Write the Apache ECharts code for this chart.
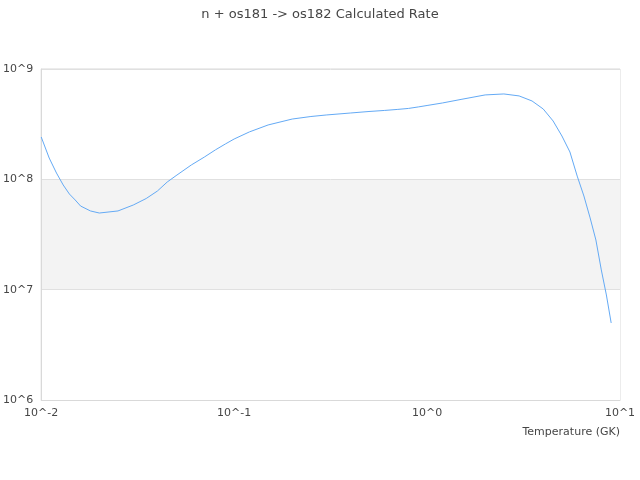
<!DOCTYPE html>
<html>
<head>
<meta charset="utf-8">
<script src="https://cdn.jsdelivr.net/npm/echarts@6/dist/echarts.min.js"></script>
<style>html,body{margin:0;padding:0;background:#fff;}#c{width:640px;height:480px;}</style>
</head>
<body>
<div id="c"></div>
<script>
var titleText = 'n + os181 -> os182 Calculated Rate';
var xAxisName = 'Temperature (GK)';
var temperatures = [0.01, 0.011, 0.012, 0.013, 0.014, 0.015, 0.016, 0.018, 0.02, 0.025, 0.03, 0.035, 0.04, 0.045, 0.05, 0.06, 0.07, 0.08, 0.09, 0.1, 0.12, 0.15, 0.2, 0.25, 0.3, 0.4, 0.5, 0.6, 0.7, 0.8, 0.9, 1, 1.2, 1.5, 2, 2.5, 3, 3.5, 4, 4.5, 5, 5.5, 6, 6.5, 7, 7.5, 8, 8.5, 9];
var rates = [2.42e8, 1.56e8, 1.14e8, 8.89e7, 7.36e7, 6.50e7, 5.73e7, 5.17e7, 4.95e7, 5.17e7, 5.85e7, 6.70e7, 7.83e7, 9.46e7, 1.08e8, 1.35e8, 1.59e8, 1.85e8, 2.09e8, 2.32e8, 2.69e8, 3.11e8, 3.52e8, 3.71e8, 3.83e8, 3.99e8, 4.12e8, 4.21e8, 4.30e8, 4.39e8, 4.53e8, 4.67e8, 4.92e8, 5.30e8, 5.82e8, 5.94e8, 5.70e8, 5.13e8, 4.34e8, 3.38e8, 2.47e8, 1.77e8, 1.07e8, 7.06e7, 4.47e7, 2.82e7, 1.51e7, 8.95e6, 4.99e6];

var data = temperatures.map(function (t, i) { return [t, rates[i]]; });
function pow10Label(v) { return '10^' + Math.round(Math.log10(v)); }

var chart = echarts.init(document.getElementById('c'));
chart.setOption({
  animation: false,
  title: {
    text: titleText,
    left: 'center',
    top: 3,
    textStyle: { fontFamily: 'DejaVu Sans', fontSize: 13, fontWeight: 'normal', color: '#464646' }
  },
  grid: { left: 40, right: 20, top: 69, bottom: 80, show: true, borderColor: '#d9d9d9', borderWidth: 1, containLabel: false },
  xAxis: {
    type: 'log',
    logBase: 10,
    min: 0.01,
    max: 10,
    name: xAxisName,
    nameLocation: 'end',
    nameGap: 0,
    nameTextStyle: { fontFamily: 'DejaVu Sans', fontSize: 11, color: '#464646', align: 'right', verticalAlign: 'top', padding: [27, 0, 0, 0] },
    axisLine: { show: true, lineStyle: { color: '#d9d9d9' } },
    axisTick: { show: false },
    splitLine: { show: false },
    axisLabel: { fontFamily: 'DejaVu Sans', fontSize: 11, color: '#464646', margin: 8, formatter: pow10Label }
  },
  yAxis: {
    type: 'log',
    logBase: 10,
    min: 1e6,
    max: 1e9,
    axisLine: { show: true, lineStyle: { color: '#d9d9d9' } },
    axisTick: { show: false },
    splitLine: { show: true, lineStyle: { color: '#e0e0e0' } },
    splitArea: { show: true, areaStyle: { color: ['#f3f3f3', '#ffffff'] } },
    axisLabel: { fontFamily: 'DejaVu Sans', fontSize: 11, color: '#464646', margin: 8, formatter: pow10Label }
  },
  series: [{
    type: 'line',
    data: data,
    showSymbol: false,
    symbol: 'none',
    lineStyle: { color: '#64aaf5', width: 1 }
  }]
});
</script>
</body>
</html>
